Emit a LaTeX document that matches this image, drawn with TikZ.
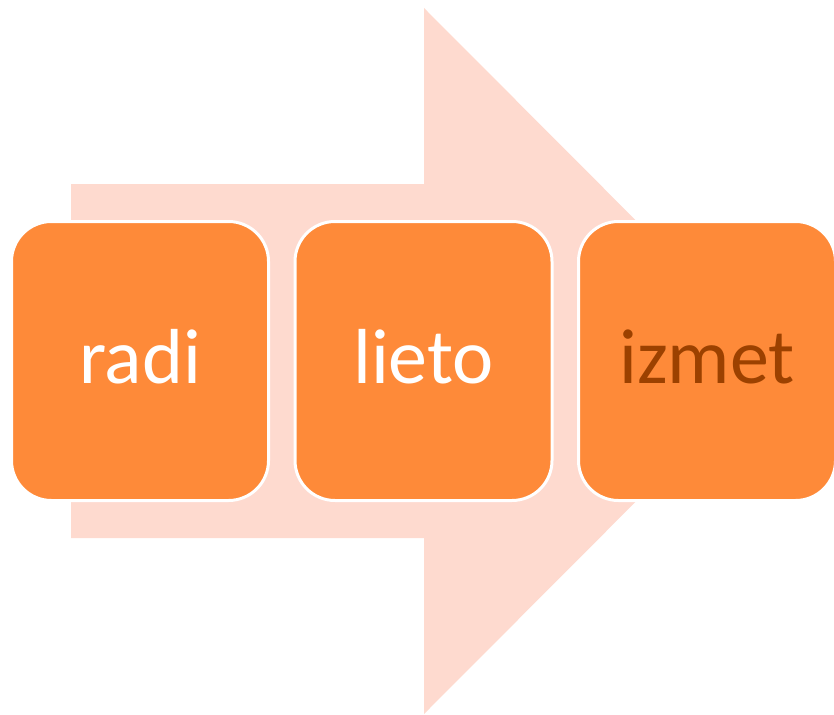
\documentclass[tikz,border=0pt]{standalone}
\usepackage{fontspec}
\setmainfont{Carlito}
\usepackage{tikz}
\usetikzlibrary{positioning}
\definecolor{stepfill}{RGB}{254,138,57}
\definecolor{arrowtint}{RGB}{254,218,207}
\definecolor{darktext}{RGB}{156,65,0}

\begin{document}
\begin{tikzpicture}[
    x=1pt, y=-1pt,
    stepbox/.style={rectangle, draw=white, line width=3pt, fill=stepfill, rounded corners=40pt, minimum width=257pt, minimum height=279pt, inner sep=0pt, text height=50pt, text depth=6pt, font=\fontsize{78}{94}\selectfont, text=#1},
    stepbox/.default=white
]
\useasboundingbox (0,0) rectangle (834,714);

% Big pale arrow in the background
\fill[arrowtint] (71,184) -- (424,184) -- (424,8) -- (776,361)
    -- (424,714) -- (424,538) -- (71,538) -- cycle;

% Three steps from left to right
\node[stepbox] (radi) at (140,361) {radi};
\node[stepbox, right=23.5pt of radi] (lieto) {lieto};
\node[stepbox=darktext, right=23.5pt of lieto] (izmet) {izmet};

\end{tikzpicture}
\end{document}
